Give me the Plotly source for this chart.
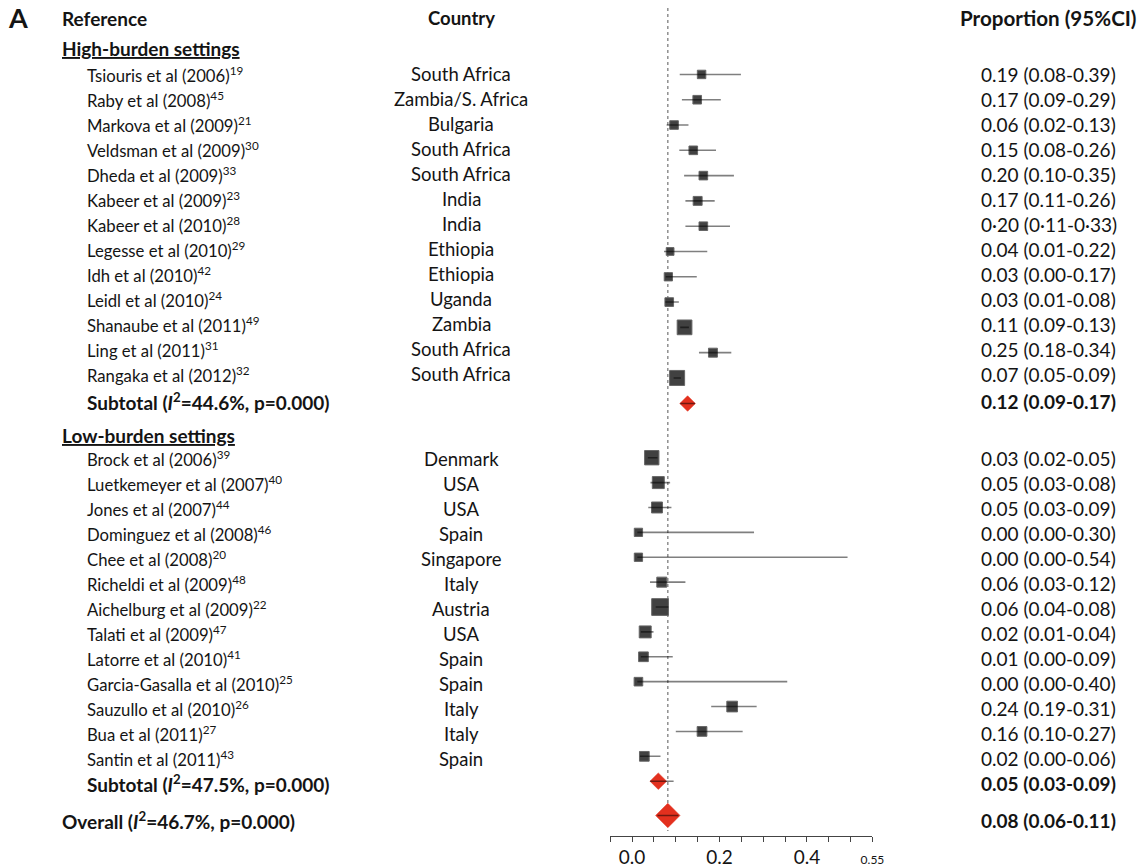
import math
import plotly.graph_objects as go

W, H = 1146, 868

# ---------------- data ----------------
high_refs = ["Tsiouris et al (2006)", "Raby et al (2008)", "Markova et al (2009)",
             "Veldsman et al (2009)", "Dheda et al (2009)", "Kabeer et al (2009)",
             "Kabeer et al (2010)", "Legesse et al (2010)", "Idh et al (2010)",
             "Leidl et al (2010)", "Shanaube et al (2011)", "Ling et al (2011)",
             "Rangaka et al (2012)"]
high_cites = ["19", "45", "21", "30", "33", "23", "28", "29", "42", "24", "49", "31", "32"]
high_countries = ["South Africa", "Zambia/S. Africa", "Bulgaria", "South Africa", "South Africa",
                  "India", "India", "Ethiopia", "Ethiopia", "Uganda", "Zambia",
                  "South Africa", "South Africa"]
high_ci_text = ["0.19 (0.08-0.39)", "0.17 (0.09-0.29)", "0.06 (0.02-0.13)", "0.15 (0.08-0.26)",
                "0.20 (0.10-0.35)", "0.17 (0.11-0.26)", "0·20 (0·11-0·33)", "0.04 (0.01-0.22)",
                "0.03 (0.00-0.17)", "0.03 (0.01-0.08)", "0.11 (0.09-0.13)", "0.25 (0.18-0.34)",
                "0.07 (0.05-0.09)"]
# positions of the marks as drawn on the axis
high_est = [0.159, 0.149, 0.096, 0.140, 0.163, 0.150, 0.163, 0.087, 0.083, 0.085, 0.120, 0.185, 0.103]
high_lo = [0.109, 0.114, 0.079, 0.108, 0.119, 0.122, 0.122, 0.073, 0.077, 0.076, 0.110, 0.153, 0.095]
high_hi = [0.249, 0.203, 0.129, 0.192, 0.233, 0.189, 0.224, 0.172, 0.148, 0.107, 0.130, 0.227, 0.112]
high_weight = [2.5, 2.6, 2.6, 2.6, 2.6, 2.8, 2.6, 2.1, 2.4, 2.6, 7.6, 2.8, 7.9]
high_sub = {"i2": "44.6%", "p": "0.000", "text": "0.12 (0.09-0.17)", "est": 0.127, "lo": 0.110, "hi": 0.144}

low_refs = ["Brock et al (2006)", "Luetkemeyer et al (2007)", "Jones et al (2007)",
            "Dominguez et al (2008)", "Chee et al (2008)", "Richeldi et al (2009)",
            "Aichelburg et al (2009)", "Talati et al (2009)", "Latorre et al (2010)",
            "Garcia-Gasalla et al (2010)", "Sauzullo et al (2010)", "Bua et al (2011)",
            "Santin et al (2011)"]
low_cites = ["39", "40", "44", "46", "20", "48", "22", "47", "41", "25", "26", "27", "43"]
low_countries = ["Denmark", "USA", "USA", "Spain", "Singapore", "Italy", "Austria", "USA",
                 "Spain", "Spain", "Italy", "Italy", "Spain"]
low_ci_text = ["0.03 (0.02-0.05)", "0.05 (0.03-0.08)", "0.05 (0.03-0.09)", "0.00 (0.00-0.30)",
               "0.00 (0.00-0.54)", "0.06 (0.03-0.12)", "0.06 (0.04-0.08)", "0.02 (0.01-0.04)",
               "0.01 (0.00-0.09)", "0.00 (0.00-0.40)", "0.24 (0.19-0.31)", "0.16 (0.10-0.27)",
               "0.02 (0.00-0.06)"]
low_est = [0.045, 0.060, 0.057, 0.0145, 0.0145, 0.068, 0.064, 0.030, 0.026, 0.0145, 0.229, 0.160, 0.028]
low_lo = [0.036, 0.042, 0.037, 0.012, 0.012, 0.041, 0.054, 0.020, 0.020, 0.012, 0.181, 0.100, 0.018]
low_hi = [0.058, 0.087, 0.090, 0.279, 0.493, 0.122, 0.083, 0.049, 0.093, 0.355, 0.285, 0.253, 0.065]
low_weight = [7.2, 5.0, 4.2, 2.4, 2.4, 3.5, 9.8, 5.0, 3.3, 2.6, 4.0, 3.3, 3.3]
low_sub = {"i2": "47.5%", "p": "0.000", "text": "0.05 (0.03-0.09)", "est": 0.060, "lo": 0.041, "hi": 0.095}

overall = {"i2": "46.7%", "p": "0.000", "text": "0.08 (0.06-0.11)", "est": 0.0817, "lo": 0.058, "hi": 0.106}

x_tickvals = [-0.05, 0.0, 0.05, 0.10, 0.15, 0.20, 0.25, 0.30, 0.35, 0.40, 0.45, 0.50, 0.55]
x_ticktext = ["", "0.0", "", "", "", "0.2", "", "", "", "0.4", "", "", "<span style='font-size:12px'>0.55</span>"]

# ---------------- layout constants ----------------
FONT = "Lato"
TXT = "#141414"
FS_REF, FS_BOLD, FS_COUNTRY, FS_PROP, FS_PROP_HDR = 16.7, 19, 18.5, 19, 20.6
HDR_Y = 18.5
HIGH_TITLE_Y = 48.5
LOW_TITLE_Y = 437
# mark rows
HIGH_Y0, HIGH_STEP = 74.7, 25.38
LOW_Y0, LOW_STEP = 459.3, 24.97
OVERALL_GAP = 34.4
# text rows
TEXT_STEP = 25.08
HIGH_TXT_Y0, LOW_TXT_Y0 = 74.5, 460.5
HIGH_SUB_TXT_Y, LOW_SUB_TXT_Y, OVERALL_TXT_Y = 402.5, 786.5, 823.0

X_REF_HDR, X_REF_ITEM = 61, 86
X_COUNTRY, X_PROP = 466, 1060
AX_LEFT_PX, AX_RIGHT_PX, AX_Y_PX = 616.7, 881.7, 838.5
SIZE_PER_WEIGHT = 0.035

high_y = [HIGH_Y0 + i * HIGH_STEP for i in range(len(high_refs))]
high_sub_y = HIGH_Y0 + len(high_refs) * HIGH_STEP + 0.3
low_y = [LOW_Y0 + i * LOW_STEP for i in range(len(low_refs))]
low_sub_y = LOW_Y0 + len(low_refs) * LOW_STEP
overall_y = low_sub_y + OVERALL_GAP
high_ty = [HIGH_TXT_Y0 + i * TEXT_STEP for i in range(len(high_refs))]
low_ty = [LOW_TXT_Y0 + i * TEXT_STEP for i in range(len(low_refs))]

fig = go.Figure()

# reference line at the overall estimate
fig.add_trace(go.Scatter(x=[overall["est"], overall["est"]], y=[8, 834], mode="lines",
                         line=dict(color="#8f8f8f", width=1.5, dash="dot"),
                         hoverinfo="skip", showlegend=False))

# study squares
all_est = high_est + low_est
all_y = high_y + low_y
sizes = [math.sqrt(w / SIZE_PER_WEIGHT) for w in high_weight + low_weight]
fig.add_trace(go.Scatter(x=all_est, y=all_y, mode="markers",
                         marker=dict(symbol="square", size=sizes, color="#414141", opacity=1,
                                     line=dict(color="#666666", width=1)),
                         hoverinfo="skip", showlegend=False))

# pooled diamonds
pooled = [high_sub, low_sub, overall]
pooled_y = [high_sub_y, low_sub_y, overall_y]
fig.add_trace(go.Scatter(x=[p["est"] for p in pooled], y=pooled_y, mode="markers",
                         marker=dict(symbol="diamond", size=[12.0, 12.8, 18.8], color="#E3301E",
                                     opacity=1, line=dict(color="#E3301E", width=0.5)),
                         hoverinfo="skip", showlegend=False))

# confidence interval lines
cx, cy = [], []
for lo, hi, y in zip(high_lo + low_lo + [p["lo"] for p in pooled],
                     high_hi + low_hi + [p["hi"] for p in pooled],
                     all_y + pooled_y):
    cx += [lo, hi, None]
    cy += [y, y, None]
fig.add_trace(go.Scatter(x=cx, y=cy, mode="lines",
                         line=dict(color="rgba(0,0,0,0.5)", width=1.6),
                         hoverinfo="skip", showlegend=False))

# ---------------- text columns ----------------
ann = []


def txt(x, y, s, size, anchor="left", bold=False):
    if bold:
        s = "<b>" + s + "</b>"
    ann.append(dict(x=x / W, y=y, xref="paper", yref="y", text=s, showarrow=False,
                    xanchor=anchor, yanchor="middle",
                    font=dict(family=FONT, size=size, color=TXT)))


txt(6, 18, "A", 27, bold=True)
txt(X_REF_HDR, HDR_Y, "Reference", FS_BOLD, bold=True)
txt(X_COUNTRY, HDR_Y, "Country", FS_COUNTRY, anchor="center", bold=True)
txt(X_PROP, HDR_Y, "Proportion (95%CI)", FS_PROP_HDR, anchor="center", bold=True)

txt(X_REF_HDR, HIGH_TITLE_Y, "<u>High-burden settings</u>", FS_BOLD, bold=True)
for r, c, ctry, t, y in zip(high_refs, high_cites, high_countries, high_ci_text, high_ty):
    txt(X_REF_ITEM, y, f"{r}<sup>{c}</sup>", FS_REF)
    txt(X_COUNTRY, y, ctry, FS_COUNTRY, anchor="center")
    txt(X_PROP, y, t, FS_PROP, anchor="center")
txt(X_REF_ITEM, HIGH_SUB_TXT_Y,
    f"Subtotal (<i>I</i><sup>2</sup>={high_sub['i2']}, p={high_sub['p']})", FS_BOLD, bold=True)
txt(X_PROP, HIGH_SUB_TXT_Y, high_sub["text"], FS_PROP, anchor="center", bold=True)

txt(X_REF_HDR, LOW_TITLE_Y, "<u>Low-burden settings</u>", FS_BOLD, bold=True)
for r, c, ctry, t, y in zip(low_refs, low_cites, low_countries, low_ci_text, low_ty):
    txt(X_REF_ITEM, y, f"{r}<sup>{c}</sup>", FS_REF)
    txt(X_COUNTRY, y, ctry, FS_COUNTRY, anchor="center")
    txt(X_PROP, y, t, FS_PROP, anchor="center")
txt(X_REF_ITEM, LOW_SUB_TXT_Y,
    f"Subtotal (<i>I</i><sup>2</sup>={low_sub['i2']}, p={low_sub['p']})", FS_BOLD, bold=True)
txt(X_PROP, LOW_SUB_TXT_Y, low_sub["text"], FS_PROP, anchor="center", bold=True)

txt(X_REF_HDR, OVERALL_TXT_Y,
    f"Overall (<i>I</i><sup>2</sup>={overall['i2']}, p={overall['p']})", FS_BOLD, bold=True)
txt(X_PROP, OVERALL_TXT_Y, overall["text"], FS_PROP, anchor="center", bold=True)

axis_common = dict(range=[x_tickvals[0], x_tickvals[-1]],
                   domain=[AX_LEFT_PX / W, AX_RIGHT_PX / W],
                   anchor="free", position=1 - AX_Y_PX / H,
                   showgrid=False, zeroline=False, fixedrange=True)

fig.update_layout(
    width=W, height=H,
    margin=dict(l=0, r=0, t=0, b=0),
    paper_bgcolor="white", plot_bgcolor="white",
    showlegend=False, hovermode=False,
    font=dict(family=FONT, color=TXT),
    annotations=ann,
    xaxis=dict(**axis_common, showline=True, linecolor="#444", linewidth=1,
               ticks="outside", ticklen=5, tickwidth=1, tickcolor="#444",
               tickmode="array", tickvals=x_tickvals, ticktext=x_ticktext,
               tickfont=dict(family=FONT, size=19, color=TXT)),
    xaxis2=dict(**axis_common, overlaying="x", showline=False,
                ticks="inside", ticklen=4, tickwidth=1, tickcolor="#444",
                tickmode="array", tickvals=x_tickvals, showticklabels=False),
    yaxis=dict(range=[H, 0], domain=[0, 1], visible=False, fixedrange=True),
)

fig.write_html("out.html", config={"displayModeBar": False},
               post_script="document.body.style.margin='0px';document.body.style.overflow='hidden';")
